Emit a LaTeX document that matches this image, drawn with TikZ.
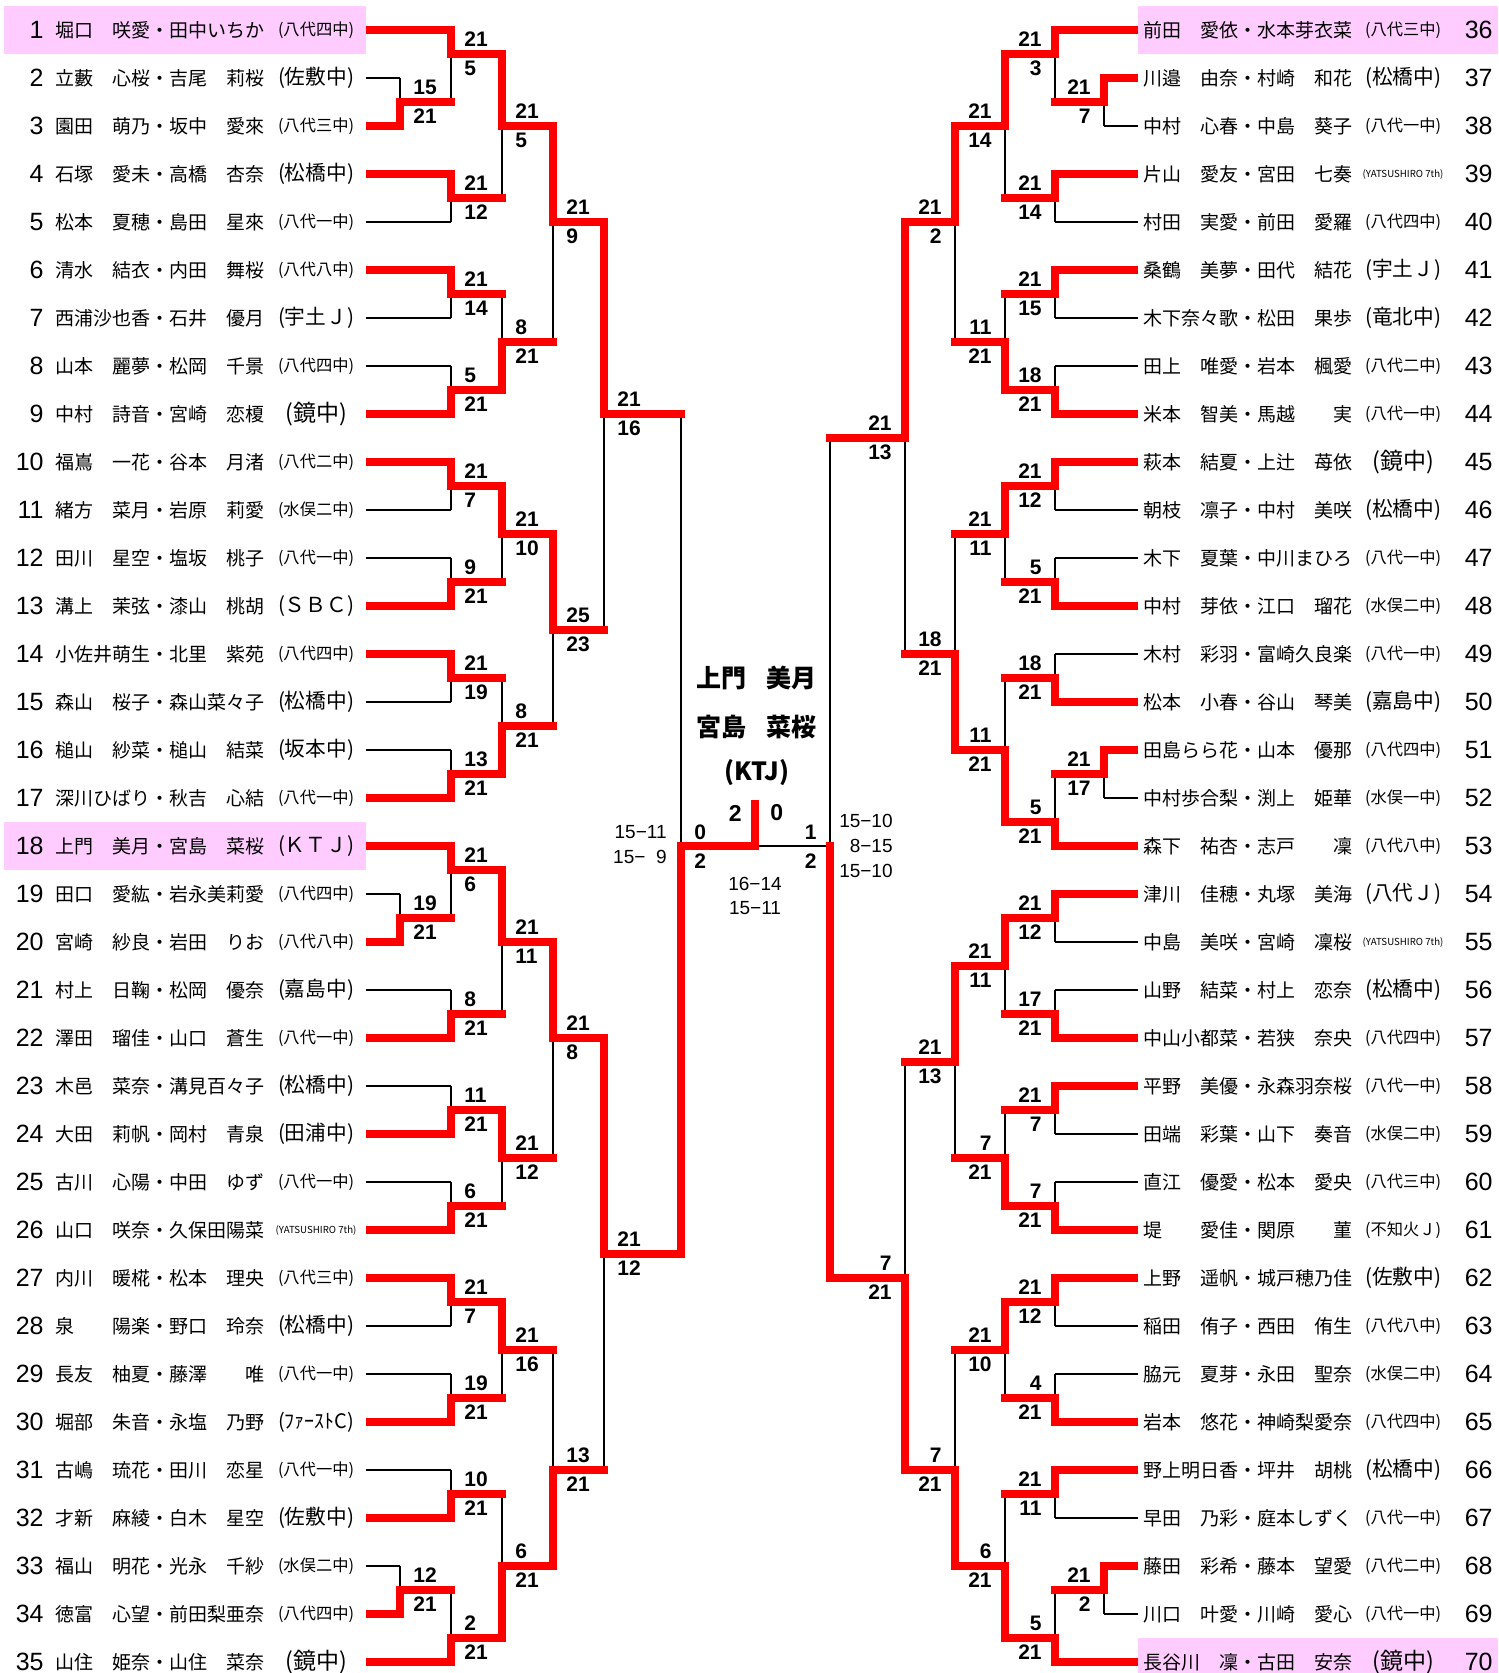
\documentclass[tikz,border=0pt]{standalone}
\usepackage{fontspec}
\setmainfont{Noto Sans CJK JP}
\newfontfamily\numfont{Liberation Sans}
\usepackage{graphicx}
\definecolor{pinkrow}{RGB}{255,204,255}
\definecolor{winred}{RGB}{255,0,0}

% school labels, squeezed to one width
\newcommand{\sch}[1]{\resizebox{38pt}{!}{(#1)}}
\newcommand{\schy}[1]{\resizebox{40.5pt}{!}{(#1)}}
\newcommand{\schk}[1]{{\fontsize{11.5pt}{12pt}\selectfont(#1)}}

% matches: vertical x / top / bottom / out / winner / next x / top score / bottom score
\newcommand{\leftmatches}{
  400/2/4/3/4/451/15/21, 451/0/3/1/0/502/21/5, 451/6/8/7/6/502/21/12,
  502/1/7/4/1/553/21/5, 451/10/12/11/10/502/21/14, 451/14/16/15/16/502/5/21,
  502/11/15/13/15/553/8/21, 553/4/13/8/4/604/21/9, 451/18/20/19/18/502/21/7,
  451/22/24/23/24/502/9/21, 502/19/23/21/19/553/21/10, 451/26/28/27/26/502/21/19,
  451/30/32/31/32/502/13/21, 502/27/31/29/31/553/8/21, 553/21/29/25/21/604/25/23,
  604/8/25/16/8/681/21/16,
  400/36/38/37/38/451/19/21, 451/34/37/35/34/502/21/6, 451/40/42/41/42/502/8/21,
  502/35/41/38/35/553/21/11, 451/44/46/45/46/502/11/21, 451/48/50/49/50/502/6/21,
  502/45/49/47/45/553/21/12, 553/38/47/42/38/604/21/8, 451/52/54/53/52/502/21/7,
  451/56/58/57/58/502/19/21, 502/53/57/55/53/553/21/16, 451/60/62/61/62/502/10/21,
  400/64/66/65/66/451/12/21, 451/65/68/67/68/502/2/21, 502/61/67/64/67/553/6/21,
  553/55/64/60/64/604/13/21, 604/42/60/51/42/681/21/12}
\newcommand{\rightmatches}{
  1104/2/4/3/2/1055/21/7, 1055/0/3/1/0/1005/21/3, 1055/6/8/7/6/1005/21/14,
  1005/1/7/4/1/955/21/14, 1055/10/12/11/10/1005/21/15, 1055/14/16/15/16/1005/18/21,
  1005/11/15/13/15/955/11/21, 955/4/13/8/4/905/21/2, 1055/18/20/19/18/1005/21/12,
  1055/22/24/23/24/1005/5/21, 1005/19/23/21/19/955/21/11, 1055/26/28/27/28/1005/18/21,
  1104/30/32/31/30/1055/21/17, 1055/31/34/33/34/1005/5/21, 1005/27/33/30/33/955/11/21,
  955/21/30/26/30/905/18/21, 905/8/26/17/8/830/21/13,
  1055/36/38/37/36/1005/21/12, 1055/40/42/41/42/1005/17/21, 1005/37/41/39/37/955/21/11,
  1055/44/46/45/44/1005/21/7, 1055/48/50/49/50/1005/7/21, 1005/45/49/47/49/955/7/21,
  955/39/47/43/39/905/21/13, 1055/52/54/53/52/1005/21/12, 1055/56/58/57/58/1005/4/21,
  1005/53/57/55/53/955/21/10, 1055/60/62/61/60/1005/21/11, 1104/64/66/65/64/1055/21/2,
  1055/65/68/67/68/1005/5/21, 1005/61/67/64/67/955/6/21, 955/55/64/60/64/905/7/21,
  905/43/60/52/60/830/7/21}

\begin{document}
\begin{tikzpicture}[
    x=0.5pt, y=-0.5pt,
    rowbox/.style={rectangle, inner sep=0pt, minimum height=24pt},
    hl/.style={fill=pinkrow},
    nohl/.style={},
    seed/.style={inner sep=0pt, font=\numfont\fontsize{12.5pt}{13pt}\selectfont},
    pair/.style={inner sep=0pt, anchor=west, font=\fontsize{9.5pt}{10pt}\selectfont},
    team/.style={inner sep=0pt},
    loseline/.style={line width=1.4pt, black},
    winline/.style={line width=4.25pt, winred},
    winpath/.style={winline, line cap=rect},
    scoreL/.style={inner sep=0pt, anchor=west, font=\numfont\bfseries\fontsize{10.5pt}{11pt}\selectfont},
    scoreR/.style={scoreL, anchor=east},
    setnum/.style={inner sep=0pt, font=\numfont\bfseries\fontsize{11.5pt}{12pt}\selectfont},
    game/.style={inner sep=0pt, font=\numfont\fontsize{9.5pt}{10pt}\selectfont},
    champ/.style={inner sep=0pt, font=\bfseries\fontsize{12.5pt}{13pt}\selectfont}
  ]
    \fill[white] (0,0) rectangle (1498,1673);
    \useasboundingbox (0,0) rectangle (1498,1673);

    % left entries
    \foreach \idx/\nm/\sc/\vx/\lc/\h in {
      1/堀口　咲愛・田中いちか/\sch{八代四中}/451/winline/hl,
      2/立藪　心桜・吉尾　莉桜/\sch{佐敷中}/400/loseline/nohl,
      3/園田　萌乃・坂中　愛來/\sch{八代三中}/400/winline/nohl,
      4/石塚　愛未・高橋　杏奈/\sch{松橋中}/451/winline/nohl,
      5/松本　夏穂・島田　星來/\sch{八代一中}/451/loseline/nohl,
      6/清水　結衣・内田　舞桜/\sch{八代八中}/451/winline/nohl,
      7/西浦沙也香・石井　優月/\sch{宇土Ｊ}/451/loseline/nohl,
      8/山本　麗夢・松岡　千景/\sch{八代四中}/451/loseline/nohl,
      9/中村　詩音・宮崎　恋榎/\schk{鏡中}/451/winline/nohl,
      10/福嶌　一花・谷本　月渚/\sch{八代二中}/451/winline/nohl,
      11/緒方　菜月・岩原　莉愛/\sch{水俣二中}/451/loseline/nohl,
      12/田川　星空・塩坂　桃子/\sch{八代一中}/451/loseline/nohl,
      13/溝上　茉弦・漆山　桃胡/\sch{ＳＢＣ}/451/winline/nohl,
      14/小佐井萌生・北里　紫苑/\sch{八代四中}/451/winline/nohl,
      15/森山　桜子・森山菜々子/\sch{松橋中}/451/loseline/nohl,
      16/槌山　紗菜・槌山　結菜/\sch{坂本中}/451/loseline/nohl,
      17/深川ひばり・秋吉　心結/\sch{八代一中}/451/winline/nohl,
      18/上門　美月・宮島　菜桜/\sch{ＫＴＪ}/451/winline/hl,
      19/田口　愛紘・岩永美莉愛/\sch{八代四中}/400/loseline/nohl,
      20/宮崎　紗良・岩田　りお/\sch{八代八中}/400/winline/nohl,
      21/村上　日鞠・松岡　優奈/\sch{嘉島中}/451/loseline/nohl,
      22/澤田　瑠佳・山口　蒼生/\sch{八代一中}/451/winline/nohl,
      23/木邑　菜奈・溝見百々子/\sch{松橋中}/451/loseline/nohl,
      24/大田　莉帆・岡村　青泉/\sch{田浦中}/451/winline/nohl,
      25/古川　心陽・中田　ゆず/\sch{八代一中}/451/loseline/nohl,
      26/山口　咲奈・久保田陽菜/\schy{YATSUSHIRO 7th}/451/winline/nohl,
      27/内川　暖椛・松本　理央/\sch{八代三中}/451/winline/nohl,
      28/泉　　陽楽・野口　玲奈/\sch{松橋中}/451/loseline/nohl,
      29/長友　柚夏・藤澤　　唯/\sch{八代一中}/451/loseline/nohl,
      30/堀部　朱音・永塩　乃野/\sch{ﾌｧｰｽﾄC}/451/winline/nohl,
      31/古嶋　琉花・田川　恋星/\sch{八代一中}/451/loseline/nohl,
      32/才新　麻綾・白木　星空/\sch{佐敷中}/451/winline/nohl,
      33/福山　明花・光永　千紗/\sch{水俣二中}/400/loseline/nohl,
      34/徳富　心望・前田梨亜奈/\sch{八代四中}/400/winline/nohl,
      35/山住　姫奈・山住　菜奈/\schk{鏡中}/451/winline/nohl}{
      \node[rowbox, minimum width=181pt, \h] (e\idx) at (185,{30+48*(\idx-1)}) {};
      \node[seed, anchor=east] (n\idx) at (44,{30+48*(\idx-1)}) {\idx};
      \node[pair] (p\idx) at (55,{30+48*(\idx-1)}) {\nm};
      \node[team] (t\idx) at (316,{30+48*(\idx-1)}) {\sc};
      \draw[\lc] (e\idx.east) -- (\vx,{30+48*(\idx-1)});
    }

    % right entries
    \foreach \idx/\nm/\sc/\vx/\lc/\h in {
      36/前田　愛依・水本芽衣菜/\sch{八代三中}/1055/winline/hl,
      37/川邉　由奈・村崎　和花/\sch{松橋中}/1104/winline/nohl,
      38/中村　心春・中島　葵子/\sch{八代一中}/1104/loseline/nohl,
      39/片山　愛友・宮田　七奏/\schy{YATSUSHIRO 7th}/1055/winline/nohl,
      40/村田　実愛・前田　愛羅/\sch{八代四中}/1055/loseline/nohl,
      41/桑鶴　美夢・田代　結花/\sch{宇土Ｊ}/1055/winline/nohl,
      42/木下奈々歌・松田　果歩/\sch{竜北中}/1055/loseline/nohl,
      43/田上　唯愛・岩本　楓愛/\sch{八代二中}/1055/loseline/nohl,
      44/米本　智美・馬越　　実/\sch{八代一中}/1055/winline/nohl,
      45/萩本　結夏・上辻　苺依/\schk{鏡中}/1055/winline/nohl,
      46/朝枝　凛子・中村　美咲/\sch{松橋中}/1055/loseline/nohl,
      47/木下　夏葉・中川まひろ/\sch{八代一中}/1055/loseline/nohl,
      48/中村　芽依・江口　瑠花/\sch{水俣二中}/1055/winline/nohl,
      49/木村　彩羽・富崎久良楽/\sch{八代一中}/1055/loseline/nohl,
      50/松本　小春・谷山　琴美/\sch{嘉島中}/1055/winline/nohl,
      51/田島らら花・山本　優那/\sch{八代四中}/1104/winline/nohl,
      52/中村歩合梨・渕上　姫華/\sch{水俣一中}/1104/loseline/nohl,
      53/森下　祐杏・志戸　　凜/\sch{八代八中}/1055/winline/nohl,
      54/津川　佳穂・丸塚　美海/\sch{八代Ｊ}/1055/winline/nohl,
      55/中島　美咲・宮崎　凜桜/\schy{YATSUSHIRO 7th}/1055/loseline/nohl,
      56/山野　結菜・村上　恋奈/\sch{松橋中}/1055/loseline/nohl,
      57/中山小都菜・若狭　奈央/\sch{八代四中}/1055/winline/nohl,
      58/平野　美優・永森羽奈桜/\sch{八代一中}/1055/winline/nohl,
      59/田端　彩葉・山下　奏音/\sch{水俣二中}/1055/loseline/nohl,
      60/直江　優愛・松本　愛央/\sch{八代三中}/1055/loseline/nohl,
      61/堤　　愛佳・関原　　菫/\sch{不知火Ｊ}/1055/winline/nohl,
      62/上野　遥帆・城戸穂乃佳/\sch{佐敷中}/1055/winline/nohl,
      63/稲田　侑子・西田　侑生/\sch{八代八中}/1055/loseline/nohl,
      64/脇元　夏芽・永田　聖奈/\sch{水俣二中}/1055/loseline/nohl,
      65/岩本　悠花・神崎梨愛奈/\sch{八代四中}/1055/winline/nohl,
      66/野上明日香・坪井　胡桃/\sch{松橋中}/1055/winline/nohl,
      67/早田　乃彩・庭本しずく/\sch{八代一中}/1055/loseline/nohl,
      68/藤田　彩希・藤本　望愛/\sch{八代二中}/1104/winline/nohl,
      69/川口　叶愛・川崎　愛心/\sch{八代一中}/1104/loseline/nohl,
      70/長谷川　凜・古田　安奈/\schk{鏡中}/1055/winline/hl}{
      \node[rowbox, minimum width=180pt, \h] (e\idx) at (1318,{30+48*(\idx-36)}) {};
      \node[seed, anchor=east] (n\idx) at (1493,{30+48*(\idx-36)}) {\idx};
      \node[pair] (p\idx) at (1143,{30+48*(\idx-36)}) {\nm};
      \node[team] (t\idx) at (1403,{30+48*(\idx-36)}) {\sc};
      \draw[\lc] (e\idx.west) -- (\vx,{30+48*(\idx-36)});
    }

    % bracket lines and scores
    \foreach \vx/\ya/\yb/\yo/\yw/\nx/\scA/\scB [count=\k] in \leftmatches {
      \draw[loseline] (\vx,{30+24*\ya}) -- (\vx,{30+24*\yb});
      \node[scoreL] (lt\k) at ({\vx+13},{30+24*\yo-14.5}) {\scA};
      \node[scoreL] (lb\k) at ({\vx+13},{30+24*\yo+14.5}) {\scB};
    }
    \foreach \vx/\ya/\yb/\yo/\yw/\nx/\scA/\scB [count=\k] in \rightmatches {
      \draw[loseline] (\vx,{30+24*\ya}) -- (\vx,{30+24*\yb});
      \node[scoreR] (rt\k) at ({\vx-13},{30+24*\yo-14.5}) {\scA};
      \node[scoreR] (rb\k) at ({\vx-13},{30+24*\yo+14.5}) {\scB};
    }

    % semifinals and final
    \coordinate (semiL) at (681,846);
    \coordinate (semiR) at (830,846);
    \coordinate (mid) at (755,846);
    \coordinate (top) at (755,800);
    \draw[loseline] (681,414) -- (681,1254);
    \draw[loseline] (830,438) -- (830,1278);
    \draw[loseline] (semiL) -- (semiR);

    \foreach \vx/\ya/\yb/\yo/\yw/\nx/\scA/\scB in \leftmatches {
      \draw[winpath] (\vx,{30+24*\yw}) -- (\vx,{30+24*\yo}) -- (\nx,{30+24*\yo});
    }
    \foreach \vx/\ya/\yb/\yo/\yw/\nx/\scA/\scB in \rightmatches {
      \draw[winpath] (\vx,{30+24*\yw}) -- (\vx,{30+24*\yo}) -- (\nx,{30+24*\yo});
    }
    \draw[winline] (681,1254) -- (semiL) -- (mid) -- (top);
    \draw[winpath] (830,1278) -- (semiR);

    \node[scoreL] (sl1) at (694,832) {0};
    \node[scoreL] (sl2) at (694,861) {2};
    \node[scoreR] (sr1) at (817,832) {1};
    \node[scoreR] (sr2) at (817,861) {2};
    \node[setnum, anchor=east] (f1) at (742,813) {2};
    \node[setnum, anchor=west] (f2) at (770,813) {0};

    \node[game, anchor=east] (gl1) at (667,832) {15−11};
    \node[game, anchor=east] (gl2) at (667,857) {15−\phantom{1}9};
    \node[game, anchor=east] (gr1) at (893,821) {15−10};
    \node[game, anchor=east] (gr2) at (893,845.5) {8−15};
    \node[game, anchor=east] (gr3) at (893,870.5) {15−10};
    \node[game] (gf1) at (755,884) {16−14};
    \node[game] (gf2) at (755,908) {15−11};

    % champion
    \node[champ] (ch1) at (756,678) {上門\hspace{0.8em}美月};
    \node[champ] (ch2) at (756,727) {宮島\hspace{0.8em}菜桜};
    \node[champ] (ch3) at (757,773) {(KTJ)};
\end{tikzpicture}
\end{document}
